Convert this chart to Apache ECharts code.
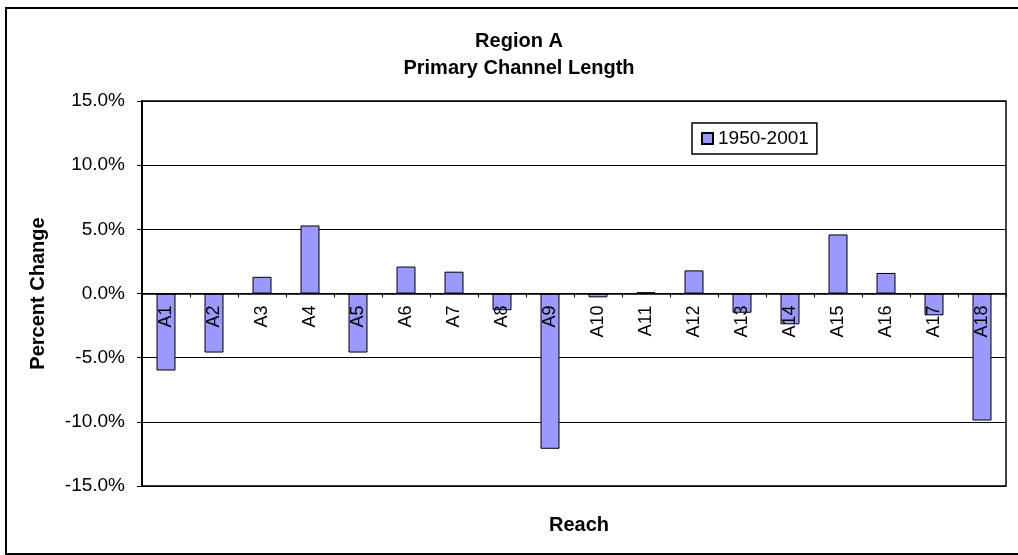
<!DOCTYPE html>
<html>
<head>
<meta charset="utf-8">
<style>
  html, body { margin: 0; padding: 0; background: #fff; }
  #chart { width: 1018px; height: 555px; }
</style>
<script src="https://cdn.jsdelivr.net/npm/echarts@6/dist/echarts.min.js"></script>
</head>
<body>
<div id="chart"></div>
<script>
var reaches = ['A1', 'A2', 'A3', 'A4', 'A5', 'A6', 'A7', 'A8', 'A9',
  'A10', 'A11', 'A12', 'A13', 'A14', 'A15', 'A16', 'A17', 'A18'];
// percent change 1950-2001
var change = [-6.0, -4.6, 1.3, 5.3, -4.6, 2.1, 1.7, -1.3, -12.1,
  -0.3, 0.1, 1.8, -1.5, -2.4, 4.6, 1.6, -1.7, -9.9];
var seriesName = '1950-2001';
var yTicks = { min: -15, max: 15, step: 5 };

(function(){
  var font = "'Liberation Sans', Arial, sans-serif";
  var gridTop = 101, gridBottom = 69, chartH = 555;
  // move category axis (line, ticks, labels) up to the zero line
  var plotH = chartH - gridTop - gridBottom;
  var zeroOffset = -plotH * (0 - yTicks.min) / (yTicks.max - yTicks.min);

  var myChart = echarts.init(document.getElementById('chart'));
  var option = {
    animation: false,
    textStyle: { fontFamily: font, color: '#000' },
    title: [
      {
        text: 'Region A\nPrimary Channel Length',
        left: 514,
        top: 23,
        textAlign: 'center',
        textStyle: { fontSize: 20, fontWeight: 'bold', lineHeight: 27, color: '#000', fontFamily: font }
      },
      {
        text: 'Reach',
        left: 574,
        top: 510,
        textAlign: 'center',
        textStyle: { fontSize: 20, fontWeight: 'bold', color: '#000', fontFamily: font }
      }
    ],
    legend: {
      data: [seriesName],
      left: 692,
      top: 123,
      orient: 'horizontal',
      padding: [6, 8, 6, 9],
      borderColor: '#000',
      borderWidth: 1.5,
      itemWidth: 11,
      itemHeight: 11,
      icon: 'rect',
      textStyle: { fontSize: 19, color: '#000', fontFamily: font }
    },
    grid: {
      left: 142,
      right: 12,
      top: gridTop,
      bottom: gridBottom,
      show: true,
      borderColor: '#000',
      borderWidth: 1.5
    },
    xAxis: {
      type: 'category',
      data: reaches,
      position: 'bottom',
      offset: zeroOffset,
      z: 10,
      axisLine: { onZero: false, lineStyle: { color: '#000', width: 1.5 } },
      axisTick: { show: true, length: 4, lineStyle: { color: '#000' } },
      axisLabel: { rotate: 90, margin: 12, fontSize: 18, color: '#000', fontFamily: font },
      splitLine: { show: false }
    },
    yAxis: {
      type: 'value',
      min: yTicks.min,
      max: yTicks.max,
      interval: yTicks.step,
      name: 'Percent Change',
      nameLocation: 'middle',
      nameGap: 94,
      nameTextStyle: { fontSize: 20, fontWeight: 'bold', color: '#000', fontFamily: font },
      axisLine: { show: true, lineStyle: { color: '#000', width: 2 } },
      axisTick: { show: true, length: 5, lineStyle: { color: '#000' } },
      axisLabel: {
        margin: 17,
        fontSize: 19,
        color: '#000',
        fontFamily: font,
        formatter: function (v) { return v.toFixed(1) + '%'; }
      },
      splitLine: { show: true, lineStyle: { color: '#000', width: 1 } }
    },
    series: [
      {
        name: seriesName,
        type: 'bar',
        barWidth: 19,
        itemStyle: { color: '#9999ff', borderColor: '#000', borderWidth: 1 },
        data: change
      }
    ],
    graphic: [
      {
        type: 'rect',
        shape: { x: 6, y: 8, width: 1100, height: 546 },
        style: { fill: 'none', stroke: '#000', lineWidth: 2 },
        silent: true,
        z: 100
      }
    ]
  };
  myChart.setOption(option);
  window.addEventListener('resize', function() {
    myChart.resize();
  });
})();
</script>
</body>
</html>
